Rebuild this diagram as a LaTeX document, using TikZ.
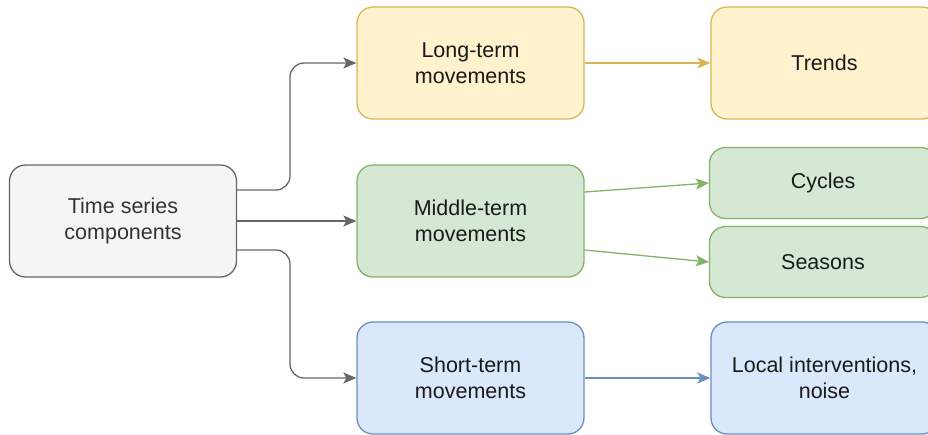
\documentclass[tikz,border=0pt]{standalone}
\usepackage{fontspec}
\setmainfont{Liberation Sans}
\usetikzlibrary{arrows.meta}
\definecolor{greyfill}{HTML}{F5F5F5}
\definecolor{greyline}{HTML}{666666}
\definecolor{yelfill}{HTML}{FFF2CC}
\definecolor{yelline}{HTML}{D6B656}
\definecolor{grnfill}{HTML}{D5E8D4}
\definecolor{grnline}{HTML}{82B366}
\definecolor{blufill}{HTML}{DAE8FC}
\definecolor{bluline}{HTML}{6C8EBF}
\definecolor{txtdark}{HTML}{1A1A1A}
\definecolor{txtgrey}{HTML}{333333}
\tikzset{
  x=1pt, y=-1pt,
  box/.style={draw, line width=1.3pt, rounded corners=16pt, align=center,
    minimum width=227pt, minimum height=112pt, inner sep=0pt,
    font=\fontsize{21.5}{26}\selectfont, text=txtdark},
  smallbox/.style={box, minimum height=71pt},
  greybox/.style={box, fill=greyfill, draw=greyline, text=txtgrey},
  yelbox/.style={box, fill=yelfill, draw=yelline},
  grnbox/.style={box, fill=grnfill, draw=grnline},
  grnsmall/.style={smallbox, fill=grnfill, draw=grnline},
  blubox/.style={box, fill=blufill, draw=bluline},
  link/.style={line width=1.3pt, -{Stealth[length=13pt,width=11pt,inset=3pt]}},
}
\begin{document}
\begin{tikzpicture}
\clip (0,0) rectangle (928,434);
\fill[white] (0,0) rectangle (928,434);

\node[greybox] (ts) at (123,221) {Time series\\components};
\node[yelbox] (long) at (470.5,63) {Long-term\\movements};
\node[grnbox] (mid) at (470.5,221) {Middle-term\\movements};
\node[blubox] (short) at (470.5,378) {Short-term\\movements};
\node[yelbox] (trends) at (824.5,63) {Trends};
\node[grnsmall] (cyc) at (823,183) {Cycles};
\node[grnsmall] (sea) at (823,262) {Seasons};
\node[blubox] (local) at (824.5,378) {Local interventions,\\noise};

% yshift works in page units, so positive is upward here
\coordinate (tsA) at ([yshift=31pt]ts.east);
\coordinate (tsB) at ([yshift=-29pt]ts.east);

\draw[link, greyline, rounded corners=14pt] (tsA) -| (290,63) -- (long.west);
\draw[link, greyline] (ts.east) -- (mid.west);
\draw[link, greyline, rounded corners=14pt] (tsB) -| (290,378) -- (short.west);

\draw[link, yelline] (long.east) -- (trends.west);
\draw[link, grnline] ([yshift=29pt]mid.east) -- (cyc.west);
\draw[link, grnline] ([yshift=-29pt]mid.east) -- (sea.west);
\draw[link, bluline] (short.east) -- (local.west);
\end{tikzpicture}
\end{document}
